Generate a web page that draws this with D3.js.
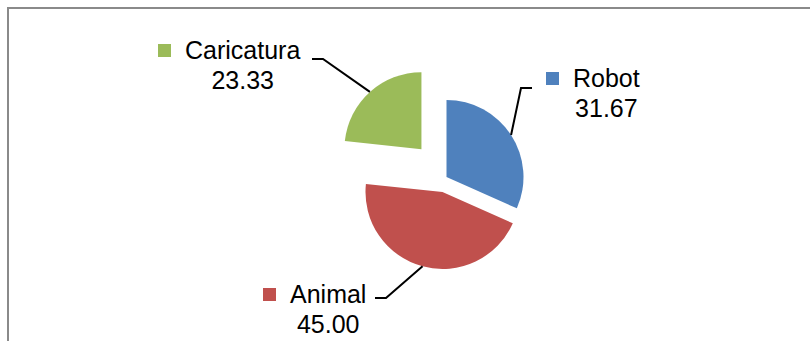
<!DOCTYPE html>
<html>
<head>
<meta charset="utf-8">
<script src="https://cdn.jsdelivr.net/npm/d3@7"></script>
<style>
  html, body { margin: 0; padding: 0; background: #fff; }
  svg { display: block; }
  text { font-family: "Liberation Sans", Arial, sans-serif; fill: #000; }
</style>
</head>
<body>
<svg id="chart" width="810" height="341"></svg>
<script>
// Category names and their shares (percent)
const categories = ["Robot", "Animal", "Caricatura"];
const values = [31.67, 45.00, 23.33];
const valueLabels = ["31.67", "45.00", "23.33"];
const colors = ["#4F81BD", "#C0504D", "#9BBB59"];

const svg = d3.select("#chart");
const W = 810, H = 341;

// Chart frame (runs off the right and bottom edges)
svg.append("rect")
  .attr("x", 8).attr("y", 8)
  .attr("width", W + 20).attr("height", H + 20)
  .attr("fill", "none")
  .attr("stroke", "#8a8a8a")
  .attr("stroke-width", 2);

// Pie geometry
const cx = 446.5, cy = 177, radius = 77;
const explode = { "Robot": 0, "Animal": 15.5, "Caricatura": 37.5 };

const pie = d3.pie().sort(null).value(d => d.value).startAngle(0).endAngle(2 * Math.PI);
const data = categories.map((c, i) => ({ name: c, value: values[i], label: valueLabels[i], color: colors[i] }));
const arcs = pie(data);

const arc = d3.arc().innerRadius(0).outerRadius(radius);
const edgeArc = d3.arc().innerRadius(radius).outerRadius(radius);

function offsetOf(a) {
  const mid = (a.startAngle + a.endAngle) / 2;
  const d = explode[a.data.name];
  return [Math.sin(mid) * d, -Math.cos(mid) * d];
}

const g = svg.append("g").attr("transform", `translate(${cx},${cy})`);

g.selectAll("path.slice")
  .data(arcs)
  .join("path")
  .attr("class", "slice")
  .attr("transform", a => { const o = offsetOf(a); return `translate(${o[0]},${o[1]})`; })
  .attr("d", arc)
  .attr("fill", a => a.data.color);

// Label placement: left edge of the category text and its baseline,
// plus where the leader line bends and ends
const labelLayout = {
  "Robot":      { x: 573, y: 87,  bend: [521, 88],  end: 532 },
  "Caricatura": { x: 185, y: 59,  bend: [323, 59],  end: 312 },
  "Animal":     { x: 290, y: 303, bend: [386, 298], end: 375 }
};

arcs.forEach(a => {
  const L = labelLayout[a.data.name];
  const o = offsetOf(a);
  const mid = (a.startAngle + a.endAngle) / 2;
  const sx = cx + o[0] + Math.sin(mid) * radius;
  const sy = cy + o[1] - Math.cos(mid) * radius;

  // Leader line from the slice edge to the label
  svg.append("path")
    .attr("d", d3.line()([[sx, sy], L.bend, [L.end, L.bend[1]]]))
    .attr("fill", "none")
    .attr("stroke", "#000")
    .attr("stroke-width", 2);

  const name = svg.append("text")
    .attr("x", L.x).attr("y", L.y)
    .attr("font-size", 25)
    .text(a.data.name);
  const tw = name.node().getComputedTextLength();

  // Legend key square
  svg.append("rect")
    .attr("x", L.x - 27).attr("y", L.y - 15)
    .attr("width", 13).attr("height", 13)
    .attr("fill", a.data.color);

  svg.append("text")
    .attr("x", L.x + tw / 2).attr("y", L.y + 30)
    .attr("font-size", 25)
    .attr("text-anchor", "middle")
    .text(a.data.label);
});
</script>
</body>
</html>
